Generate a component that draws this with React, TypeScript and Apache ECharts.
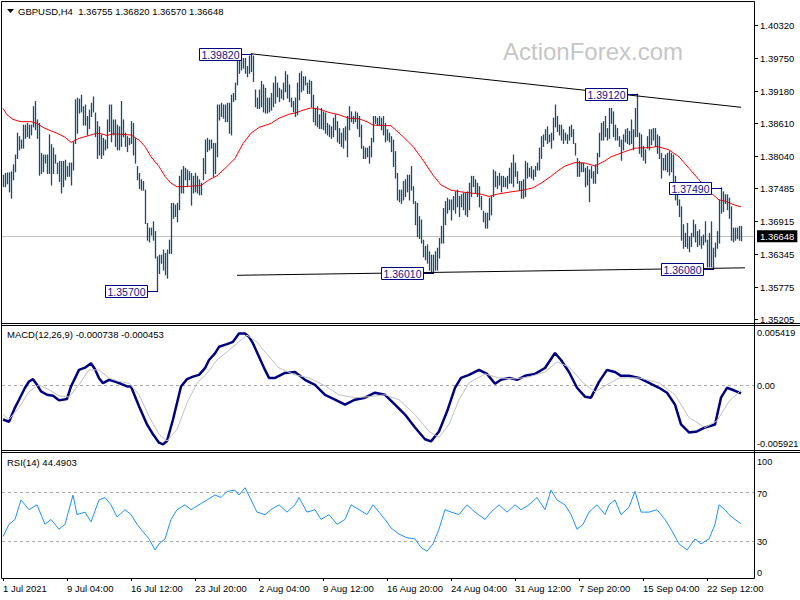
import React, { useEffect, useRef } from 'react';
import * as echarts from 'echarts';

const FONT = '"Liberation Sans", Arial, sans-serif';
const BAR_COLOR = '#174d6f';

// ---- bars (H4, high / low) ----
const highs = [
  1.3771, 1.3774, 1.3775, 1.3775, 1.3777, 1.3789, 1.3806, 1.3844, 1.3838, 1.3832,
  1.3858, 1.3858, 1.3861, 1.3858, 1.3858, 1.3890, 1.3899, 1.3867, 1.3861, 1.3809,
  1.3806, 1.3806, 1.3806, 1.3841, 1.3824, 1.3818, 1.3806, 1.3792, 1.3795, 1.3795,
  1.3795, 1.3797, 1.3786, 1.3792, 1.3792, 1.3829, 1.3902, 1.3905, 1.3903, 1.3910,
  1.3890, 1.3893, 1.3873, 1.3884, 1.3896, 1.3907, 1.3879, 1.3864, 1.3855, 1.3841,
  1.3835, 1.3832, 1.3867, 1.3893, 1.3893, 1.3867, 1.3867, 1.3858, 1.3855, 1.3899,
  1.3867, 1.3844, 1.3838, 1.3835, 1.3864, 1.3861, 1.3835, 1.3786, 1.3774, 1.3763,
  1.3760, 1.3745, 1.3687, 1.3679, 1.3679, 1.3690, 1.3673, 1.3629, 1.3632, 1.3632,
  1.3641, 1.3635, 1.3641, 1.3658, 1.3722, 1.3722, 1.3719, 1.3722, 1.3769, 1.3780,
  1.3786, 1.3783, 1.3780, 1.3777, 1.3774, 1.3769, 1.3774, 1.3769, 1.3763, 1.3757,
  1.3800, 1.3832, 1.3835, 1.3832, 1.3832, 1.3826, 1.3826, 1.3893, 1.3893, 1.3896,
  1.3893, 1.3893, 1.3896, 1.3896, 1.3910, 1.3913, 1.3931, 1.3974, 1.3980, 1.3974,
  1.3974, 1.3974, 1.3960, 1.3978, 1.3982, 1.3978, 1.3919, 1.3905, 1.3919, 1.3934,
  1.3928, 1.3922, 1.3905, 1.3905, 1.3913, 1.3931, 1.3942, 1.3931, 1.3922, 1.3919,
  1.3931, 1.3951, 1.3945, 1.3928, 1.3905, 1.3899, 1.3905, 1.3931, 1.3948, 1.3951,
  1.3942, 1.3942, 1.3931, 1.3936, 1.3934, 1.3910, 1.3887, 1.3890, 1.3876, 1.3887,
  1.3881, 1.3879, 1.3861, 1.3858, 1.3855, 1.3870, 1.3876, 1.3864, 1.3852, 1.3844,
  1.3852, 1.3855, 1.3873, 1.3890, 1.3881, 1.3873, 1.3881, 1.3879, 1.3873, 1.3858,
  1.3821, 1.3818, 1.3818, 1.3821, 1.3835, 1.3873, 1.3873, 1.3870, 1.3873, 1.3870,
  1.3873, 1.3861, 1.3850, 1.3844, 1.3838, 1.3832, 1.3812, 1.3774, 1.3745, 1.3745,
  1.3760, 1.3763, 1.3771, 1.3771, 1.3786, 1.3751, 1.3725, 1.3722, 1.3699, 1.3693,
  1.3658, 1.3647, 1.3650, 1.3638, 1.3632, 1.3632, 1.3638, 1.3644, 1.3661, 1.3682,
  1.3713, 1.3725, 1.3731, 1.3728, 1.3728, 1.3734, 1.3742, 1.3745, 1.3734, 1.3737,
  1.3740, 1.3740, 1.3742, 1.3757, 1.3769, 1.3769, 1.3763, 1.3757, 1.3751, 1.3734,
  1.3708, 1.3705, 1.3705, 1.3731, 1.3734, 1.3780, 1.3777, 1.3769, 1.3774, 1.3769,
  1.3769, 1.3766, 1.3769, 1.3783, 1.3792, 1.3806, 1.3792, 1.3777, 1.3760, 1.3760,
  1.3763, 1.3795, 1.3792, 1.3783, 1.3786, 1.3780, 1.3786, 1.3792, 1.3818, 1.3838,
  1.3841, 1.3850, 1.3855, 1.3841, 1.3844, 1.3870, 1.3893, 1.3873, 1.3858, 1.3858,
  1.3850, 1.3844, 1.3841, 1.3855, 1.3858, 1.3850, 1.3826, 1.3800, 1.3795, 1.3792,
  1.3792, 1.3783, 1.3786, 1.3780, 1.3786, 1.3777, 1.3789, 1.3809, 1.3844, 1.3861,
  1.3864, 1.3873, 1.3852, 1.3887, 1.3887, 1.3881, 1.3858, 1.3852, 1.3838, 1.3832,
  1.3841, 1.3850, 1.3852, 1.3847, 1.3867, 1.3850, 1.3887, 1.3912, 1.3844, 1.3841,
  1.3821, 1.3815, 1.3838, 1.3850, 1.3850, 1.3852, 1.3852, 1.3841, 1.3838, 1.3809,
  1.3800, 1.3806, 1.3809, 1.3812, 1.3809, 1.3806, 1.3769, 1.3742, 1.3728, 1.3716,
  1.3685, 1.3670, 1.3687, 1.3664, 1.3670, 1.3693, 1.3685, 1.3673, 1.3676, 1.3664,
  1.3667, 1.3690, 1.3658, 1.3670, 1.3690, 1.3644, 1.3653, 1.3673, 1.3728, 1.3749,
  1.3742, 1.3737, 1.3737, 1.3731, 1.3716, 1.3679, 1.3679, 1.3679, 1.3682, 1.3682,
];
const lows = [
  1.3751, 1.3751, 1.3756, 1.3742, 1.3731, 1.3763, 1.3777, 1.3800, 1.3815, 1.3818,
  1.3818, 1.3835, 1.3838, 1.3835, 1.3841, 1.3855, 1.3850, 1.3835, 1.3771, 1.3774,
  1.3777, 1.3792, 1.3774, 1.3774, 1.3754, 1.3774, 1.3792, 1.3774, 1.3760, 1.3740,
  1.3751, 1.3763, 1.3769, 1.3769, 1.3754, 1.3780, 1.3826, 1.3844, 1.3879, 1.3881,
  1.3858, 1.3858, 1.3841, 1.3852, 1.3873, 1.3881, 1.3838, 1.3800, 1.3806, 1.3800,
  1.3806, 1.3815, 1.3818, 1.3847, 1.3829, 1.3841, 1.3821, 1.3815, 1.3815, 1.3821,
  1.3838, 1.3821, 1.3812, 1.3824, 1.3826, 1.3806, 1.3792, 1.3763, 1.3748, 1.3745,
  1.3745, 1.3687, 1.3658, 1.3655, 1.3667, 1.3658, 1.3627, 1.3570, 1.3600, 1.3618,
  1.3606, 1.3598, 1.3592, 1.3635, 1.3635, 1.3696, 1.3699, 1.3690, 1.3711, 1.3740,
  1.3740, 1.3763, 1.3751, 1.3763, 1.3719, 1.3740, 1.3742, 1.3740, 1.3737, 1.3737,
  1.3763, 1.3774, 1.3812, 1.3815, 1.3818, 1.3769, 1.3774, 1.3803, 1.3867, 1.3873,
  1.3870, 1.3864, 1.3864, 1.3844, 1.3841, 1.3899, 1.3902, 1.3928, 1.3948, 1.3954,
  1.3957, 1.3948, 1.3942, 1.3948, 1.3951, 1.3934, 1.3890, 1.3887, 1.3887, 1.3890,
  1.3881, 1.3879, 1.3879, 1.3881, 1.3884, 1.3890, 1.3896, 1.3907, 1.3899, 1.3905,
  1.3902, 1.3916, 1.3905, 1.3899, 1.3890, 1.3881, 1.3873, 1.3876, 1.3902, 1.3916,
  1.3919, 1.3928, 1.3913, 1.3913, 1.3890, 1.3864, 1.3858, 1.3855, 1.3852, 1.3852,
  1.3850, 1.3844, 1.3841, 1.3838, 1.3835, 1.3838, 1.3850, 1.3829, 1.3826, 1.3821,
  1.3818, 1.3832, 1.3803, 1.3850, 1.3864, 1.3861, 1.3864, 1.3852, 1.3838, 1.3818,
  1.3800, 1.3800, 1.3803, 1.3792, 1.3803, 1.3829, 1.3861, 1.3858, 1.3858, 1.3850,
  1.3841, 1.3829, 1.3832, 1.3829, 1.3812, 1.3786, 1.3766, 1.3728, 1.3725, 1.3722,
  1.3728, 1.3734, 1.3742, 1.3728, 1.3745, 1.3722, 1.3685, 1.3664, 1.3661, 1.3653,
  1.3629, 1.3624, 1.3618, 1.3606, 1.3603, 1.3601, 1.3606, 1.3606, 1.3627, 1.3653,
  1.3653, 1.3685, 1.3705, 1.3711, 1.3693, 1.3711, 1.3705, 1.3716, 1.3699, 1.3716,
  1.3711, 1.3702, 1.3699, 1.3711, 1.3734, 1.3751, 1.3740, 1.3734, 1.3716, 1.3711,
  1.3690, 1.3679, 1.3679, 1.3693, 1.3702, 1.3734, 1.3751, 1.3748, 1.3754, 1.3742,
  1.3751, 1.3751, 1.3748, 1.3757, 1.3757, 1.3751, 1.3769, 1.3757, 1.3745, 1.3731,
  1.3731, 1.3734, 1.3766, 1.3769, 1.3766, 1.3763, 1.3769, 1.3780, 1.3780, 1.3800,
  1.3821, 1.3832, 1.3826, 1.3829, 1.3818, 1.3832, 1.3855, 1.3847, 1.3841, 1.3832,
  1.3826, 1.3832, 1.3826, 1.3832, 1.3838, 1.3826, 1.3806, 1.3769, 1.3769, 1.3777,
  1.3777, 1.3751, 1.3754, 1.3725, 1.3766, 1.3757, 1.3757, 1.3774, 1.3803, 1.3832,
  1.3832, 1.3838, 1.3832, 1.3835, 1.3861, 1.3838, 1.3832, 1.3832, 1.3821, 1.3797,
  1.3815, 1.3829, 1.3826, 1.3824, 1.3826, 1.3815, 1.3838, 1.3838, 1.3809, 1.3803,
  1.3797, 1.3792, 1.3818, 1.3815, 1.3824, 1.3832, 1.3821, 1.3809, 1.3800, 1.3766,
  1.3780, 1.3780, 1.3777, 1.3771, 1.3777, 1.3745, 1.3728, 1.3719, 1.3699, 1.3658,
  1.3644, 1.3647, 1.3644, 1.3638, 1.3647, 1.3664, 1.3655, 1.3647, 1.3650, 1.3644,
  1.3650, 1.3655, 1.3612, 1.3612, 1.3612, 1.3608, 1.3629, 1.3644, 1.3653, 1.3705,
  1.3708, 1.3722, 1.3711, 1.3696, 1.3658, 1.3655, 1.3658, 1.3661, 1.3658, 1.3657,
];
const SLOTS = 376; // bar slots incl. right-side chart shift

// moving average (red), [bar index, value]
const maLine: [number, number][] = [
  [0, 1.3887], [2, 1.3876], [5, 1.3868], [9, 1.3864], [14, 1.3864], [17, 1.3861], [20, 1.3854],
  [24, 1.3848], [27, 1.3844], [31, 1.3837], [34, 1.3828], [38, 1.3835], [42, 1.3839], [47, 1.3844],
  [49, 1.3843], [52, 1.3840], [55, 1.3843], [59, 1.3842], [64, 1.3841], [68, 1.3832], [71, 1.3821],
  [74, 1.3803], [78, 1.3786], [81, 1.3769], [84, 1.3757], [87, 1.3751], [90, 1.3751], [94, 1.3752],
  [99, 1.3753], [103, 1.3763], [107, 1.3770], [111, 1.3783], [116, 1.3800], [120, 1.3826],
  [124, 1.3844], [128, 1.3854], [134, 1.3861], [138, 1.3870], [143, 1.3877], [146, 1.3879],
  [150, 1.3884], [154, 1.3888], [158, 1.3886], [163, 1.3880], [168, 1.3876], [173, 1.3870],
  [178, 1.3869], [182, 1.3864], [185, 1.3858], [194, 1.3857], [200, 1.3838], [205, 1.3821],
  [210, 1.3797], [215, 1.3771], [219, 1.3754], [224, 1.3745], [229, 1.3742], [234, 1.3740],
  [239, 1.3738], [243, 1.3734], [247, 1.3738], [254, 1.3742], [260, 1.3745], [265, 1.3749],
  [269, 1.3757], [274, 1.3769], [278, 1.3780], [281, 1.3787], [286, 1.3793], [291, 1.3792],
  [296, 1.3787], [301, 1.3796], [304, 1.3803], [311, 1.3812], [316, 1.3818], [324, 1.3819],
  [327, 1.3821], [333, 1.3815], [338, 1.3803], [343, 1.3783], [348, 1.3763], [354, 1.3740],
  [358, 1.3728], [361, 1.3726], [366, 1.3719], [369, 1.3716],
];

// trend lines
const upperTrend: [number, number][] = [[124, 1.3982], [369, 1.3889]];
const lowerTrend: [number, number][] = [[117, 1.3597], [371, 1.3610]];

// labelled extremes
const annIdx = [77, 124, 215, 317, 359, 355];
const annPrice = [1.357, 1.3982, 1.3601, 1.3912, 1.3749, 1.3608];

const lastClose = 1.36648;
const priceTicks = [1.4032, 1.3975, 1.3918, 1.3861, 1.3804, 1.37485, 1.36915, 1.36345, 1.35775, 1.35205];

// MACD(12,26,9)
const macdMain: [number, number][] = [
  [0, -0.00318], [3, -0.00339], [6, -0.00207], [8, -0.00134], [11, -0.00023], [13, 0.00035],
  [15, 0.00057], [17, 0.00005], [19, -0.00057], [22, -0.00088], [25, -0.00097], [28, -0.0014],
  [32, -0.00127], [34, -0.00011], [38, 0.00143], [41, 0.00164], [44, 0.00205], [46, 0.00149],
  [48, 0.00066], [50, 0.0002], [53, 0.00051], [56, 0.00035], [59, 0.00014], [62, -0.00011],
  [64, -0.00011], [65, -0.00057], [68, -0.00195], [72, -0.00364], [75, -0.00456], [78, -0.00533],
  [80, -0.00549], [82, -0.00518], [85, -0.00318], [89, -0.00011], [92, 0.00057], [95, 0.00081],
  [98, 0.00097], [101, 0.00159], [103, 0.00235], [106, 0.00297], [108, 0.00358], [112, 0.00383],
  [115, 0.00404], [118, 0.00481], [121, 0.00481], [123, 0.0045], [125, 0.00389], [128, 0.00266],
  [131, 0.00143], [133, 0.00069], [136, 0.00069], [141, 0.00115], [146, 0.00124], [151, 0.00051],
  [156, 0.00005], [161, -0.00088], [166, -0.00134], [171, -0.0018], [176, -0.00134], [181, -0.00115],
  [186, -0.00069], [191, -0.00088], [196, -0.0018], [201, -0.00272], [206, -0.00392], [211, -0.00502],
  [214, -0.00521], [218, -0.00429], [222, -0.00244], [226, -0.00023], [229, 0.00069], [233, 0.00097],
  [238, 0.00143], [242, 0.00106], [246, 0.00014], [249, 0.00051], [253, 0.00069], [257, 0.00051],
  [261, 0.00088], [266, 0.00106], [271, 0.00161], [276, 0.003], [279, 0.00235], [283, 0.00124],
  [287, -0.00023], [291, -0.00106], [294, -0.00115], [298, 0.00032], [302, 0.00143], [306, 0.00124],
  [309, 0.00088], [313, 0.00088], [318, 0.00069], [323, 0.00023], [328, -0.00023], [332, -0.00069],
  [336, -0.0018], [339, -0.00364], [343, -0.00438], [347, -0.00429], [351, -0.00392], [356, -0.00364],
  [359, -0.00115], [362, -0.00023], [366, -0.00051], [369, -0.000738],
];
const macdSignal: [number, number][] = [
  [0, -0.00272], [3, -0.00318], [8, -0.00207], [13, -0.00057], [18, 0.00005], [23, -0.00041],
  [28, -0.00097], [33, -0.00109], [38, 0.00005], [43, 0.00143], [48, 0.00143], [53, 0.00066],
  [58, 0.00035], [63, 0.0002], [68, -0.00088], [73, -0.00288], [78, -0.00456], [82, -0.00518],
  [87, -0.0041], [92, -0.00164], [97, 0.0002], [102, 0.00112], [107, 0.00235], [112, 0.00312],
  [117, 0.00389], [122, 0.00466], [127, 0.00404], [131, 0.00309], [138, 0.00161], [146, 0.00097],
  [153, 0.00069], [161, -0.00005], [168, -0.00088], [176, -0.00115], [183, -0.00106], [191, -0.00088],
  [198, -0.00134], [206, -0.00272], [213, -0.00429], [218, -0.00484], [223, -0.00364], [228, -0.00134],
  [233, 0.00023], [241, 0.00106], [248, 0.00069], [256, 0.0006], [263, 0.00078], [271, 0.00124],
  [277, 0.00217], [283, 0.00171], [290, 0.00023], [296, -0.0006], [302, 0.00005], [308, 0.00069],
  [318, 0.00069], [328, 0.00023], [336, -0.00088], [343, -0.003], [351, -0.00392], [357, -0.0033],
  [363, -0.0015], [369, -0.000453],
];
const macdTicks = [0.005419, 0, -0.005921];
const macdTickText = ['0.005419', '0.00', '-0.005921'];

// RSI(14)
const rsiLine: [number, number][] = [
  [0, 34], [3, 44], [6, 48], [9, 64], [13, 56], [17, 60], [21, 44], [24, 48], [28, 40], [31, 44],
  [35, 68], [37, 52], [41, 54], [44, 46], [48, 64], [51, 66], [54, 60], [57, 50], [61, 56], [64, 52],
  [67, 44], [71, 36], [73, 32], [76, 23], [78, 28], [81, 32], [84, 48], [87, 56], [91, 60], [94, 56],
  [98, 60], [102, 64], [106, 68], [109, 66], [112, 71], [116, 72], [118, 68], [121, 74], [124, 64],
  [127, 54], [131, 52], [134, 56], [138, 60], [142, 54], [146, 60], [148, 66], [152, 54], [156, 56],
  [159, 48], [163, 52], [167, 44], [171, 48], [174, 60], [178, 56], [182, 52], [185, 60], [188, 54],
  [191, 48], [194, 41], [198, 36], [202, 33], [206, 32], [209, 25], [212, 22], [215, 28], [218, 40],
  [221, 56], [224, 54], [228, 52], [232, 60], [236, 54], [241, 48], [244, 54], [248, 60], [252, 54],
  [256, 60], [259, 56], [263, 60], [267, 66], [271, 56], [274, 72], [277, 64], [281, 60], [284, 52],
  [287, 40], [290, 44], [293, 54], [297, 60], [301, 52], [303, 60], [306, 64], [309, 52], [313, 58],
  [316, 71], [319, 54], [323, 54], [327, 56], [331, 48], [334, 40], [338, 28], [342, 23], [346, 32],
  [349, 28], [353, 32], [356, 44], [358, 60], [361, 56], [363, 52], [366, 48], [369, 44.4903],
];
const rsiLevels = [70, 30];
const rsiTicks = [100, 70, 30, 0];
const rsiTickText = ['100', '70', '30', '0'];

// time axis labels
const xLabelIdx = [0, 32, 64, 96, 128, 160, 192, 224, 256, 288, 320, 352];
const xLabelText = [
  '1 Jul 2021', '9 Jul 04:00', '16 Jul 12:00', '23 Jul 20:00', '2 Aug 04:00', '9 Aug 12:00',
  '16 Aug 20:00', '24 Aug 04:00', '31 Aug 12:00', '7 Sep 20:00', '15 Sep 04:00', '22 Sep 12:00',
];

const titleText = 'GBPUSD,H4  1.36755 1.36820 1.36570 1.36648';
const macdTitle = 'MACD(12,26,9) -0.000738 -0.000453';
const rsiTitle = 'RSI(14) 44.4903';

function tickSeries(grid: number, values: number[], texts: string[], aligns: string[], ticks: boolean) {
  return {
    type: 'custom',
    xAxisIndex: grid,
    yAxisIndex: grid,
    clip: false,
    silent: true,
    z: 20,
    data: values.map((v) => [0, v]),
    renderItem: (params: any, api: any) => {
      const cs = params.coordSys;
      const y = Math.round(api.coord([0, api.value(1)])[1]) + 0.5;
      const right = cs.x + cs.width;
      const va = aligns[params.dataIndex];
      const children: any[] = [];
      if (ticks) {
        children.push({ type: 'line', shape: { x1: right, y1: y, x2: right + 4, y2: y }, style: { stroke: '#000', lineWidth: 1 } });
      }
      children.push({
        type: 'text',
        x: right + (ticks ? 6 : 3),
        y: va === 'top' ? y + 1 : va === 'bottom' ? y - 1 : y,
        style: { text: texts[params.dataIndex], fill: '#000', font: `${ticks ? 9.5 : 9.2}px ${FONT}`, align: 'left', verticalAlign: va },
      });
      return { type: 'group', children };
    },
  };
}

function buildOption() {
  const cats = Array.from({ length: SLOTS }, (_, i) => String(i));
  const labelSet = new Set(xLabelIdx);
  const barData = highs.map((h, i) => [i, lows[i], h]);
  const grids = [
    { left: 2, top: 2, width: 752, height: 321 },
    { left: 2, top: 327, width: 752, height: 122 },
    { left: 2, top: 456, width: 752, height: 122 },
  ];
  const xAxis = grids.map((_, g) => ({
    type: 'category',
    gridIndex: g,
    data: cats,
    boundaryGap: true,
    show: g === 2,
    axisLine: { show: g === 2, lineStyle: { color: '#000', width: 1 } },
    axisTick: {
      show: g === 2,
      interval: (idx: number) => labelSet.has(idx),
      alignWithLabel: true,
      length: 3,
      lineStyle: { color: '#000' },
    },
    axisLabel: {
      show: g === 2,
      interval: (idx: number) => labelSet.has(idx),
      formatter: (_v: string, idx: number) => {
        const k = xLabelIdx.indexOf(idx);
        return k >= 0 ? xLabelText[k] : '';
      },
      align: 'left',
      margin: 5,
      color: '#000',
      fontFamily: FONT,
      fontSize: 9.5,
    },
    splitLine: { show: false },
  }));
  const yAxis = [
    { type: 'value', gridIndex: 0, min: 1.35141, max: 1.4072, show: false, splitLine: { show: false } },
    { type: 'value', gridIndex: 1, min: -0.005921, max: 0.005419, show: false, splitLine: { show: false } },
    { type: 'value', gridIndex: 2, min: 0, max: 100, show: false, splitLine: { show: false } },
  ];

  const series: any[] = [
    {
      type: 'line',
      name: 'ma',
      xAxisIndex: 0,
      yAxisIndex: 0,
      data: maLine,
      showSymbol: false,
      symbol: 'none',
      lineStyle: { color: '#ff0000', width: 1 },
      z: 3,
      silent: true,
      markLine: {
        silent: true,
        precision: 6,
        symbol: ['none', 'none'],
        data: [{ yAxis: lastClose }],
        lineStyle: { color: '#c0c0c0', width: 1, type: 'solid' },
        label: {
          show: true,
          position: 'end',
          formatter: lastClose.toFixed(5),
          color: '#fff',
          backgroundColor: '#000',
          padding: [1, 3, 1, 3],
          distance: 3,
          fontFamily: FONT,
          fontSize: 9.5,
        },
        z: 1,
      },
    },
    {
      type: 'custom',
      name: 'bars',
      xAxisIndex: 0,
      yAxisIndex: 0,
      data: barData,
      encode: { x: 0, y: [1, 2] },
      z: 4,
      silent: true,
      renderItem: (_p: any, api: any) => {
        const i = api.value(0);
        const lo = api.coord([i, api.value(1)]);
        const hi = api.coord([i, api.value(2)]);
        const x = Math.round(lo[0]) + 0.5;
        return {
          type: 'line',
          shape: { x1: x, y1: lo[1] + 0.5, x2: x, y2: hi[1] - 0.5 },
          style: { stroke: BAR_COLOR, lineWidth: 1.3 },
        };
      },
    },
    {
      type: 'line',
      xAxisIndex: 0,
      yAxisIndex: 0,
      data: upperTrend,
      symbol: 'none',
      lineStyle: { color: '#000', width: 1 },
      z: 5,
      silent: true,
    },
    {
      type: 'line',
      xAxisIndex: 0,
      yAxisIndex: 0,
      data: lowerTrend,
      symbol: 'none',
      lineStyle: { color: '#000', width: 1 },
      z: 5,
      silent: true,
    },
    {
      type: 'custom',
      name: 'annotations',
      xAxisIndex: 0,
      yAxisIndex: 0,
      data: annIdx.map((i, k) => [i, annPrice[k]]),
      z: 10,
      silent: true,
      clip: false,
      renderItem: (params: any, api: any) => {
        const p = api.coord([api.value(0), api.value(1)]);
        const y = Math.round(p[1]) + 0.5;
        const bw = 42;
        const bh = 12;
        const right = Math.round(p[0]) - 10 + 0.5;
        const left = right - bw;
        return {
          type: 'group',
          children: [
            { type: 'line', shape: { x1: right, y1: y, x2: Math.round(p[0]) + 1, y2: y }, style: { stroke: '#000080', lineWidth: 1 } },
            { type: 'rect', shape: { x: left, y: y - bh / 2, width: bw, height: bh }, style: { fill: '#fff', stroke: '#000080', lineWidth: 1 } },
            {
              type: 'text',
              x: left + bw / 2,
              y: y + 0.5,
              style: {
                text: annPrice[params.dataIndex].toFixed(5),
                fill: '#12128c',
                font: `10.5px ${FONT}`,
                align: 'center',
                verticalAlign: 'middle',
              },
            },
          ],
        };
      },
    },
    tickSeries(0, priceTicks, priceTicks.map((v) => v.toFixed(5)), priceTicks.map(() => 'middle'), true),
    {
      type: 'line',
      xAxisIndex: 1,
      yAxisIndex: 1,
      data: macdMain,
      symbol: 'none',
      lineStyle: { color: '#000080', width: 2.5 },
      z: 3,
      silent: true,
    },
    {
      type: 'line',
      xAxisIndex: 1,
      yAxisIndex: 1,
      data: macdSignal,
      symbol: 'none',
      lineStyle: { color: '#c0c0c0', width: 1 },
      z: 4,
      silent: true,
      markLine: {
        silent: true,
        precision: 6,
        symbol: ['none', 'none'],
        data: [{ yAxis: 0 }],
        lineStyle: { color: '#a8a8a8', width: 1, type: [3, 3] },
        label: { show: false },
        z: 1,
      },
    },
    tickSeries(1, macdTicks, macdTickText, ['top', 'middle', 'bottom'], false),
    {
      type: 'line',
      xAxisIndex: 2,
      yAxisIndex: 2,
      data: rsiLine,
      symbol: 'none',
      lineStyle: { color: '#1e90ff', width: 1 },
      z: 3,
      silent: true,
      markLine: {
        silent: true,
        precision: 6,
        symbol: ['none', 'none'],
        data: rsiLevels.map((v) => ({ yAxis: v })),
        lineStyle: { color: '#a8a8a8', width: 1, type: [3, 3] },
        label: { show: false },
        z: 1,
      },
    },
    tickSeries(2, rsiTicks, rsiTickText, ['top', 'middle', 'middle', 'bottom'], false),
  ];

  const hline = (y: number, x1: number, x2: number) => ({
    type: 'line',
    shape: { x1, y1: y, x2, y2: y },
    style: { stroke: '#000', lineWidth: 1 },
    z: 50,
    silent: true,
  });
  const vline = (x: number, y1: number, y2: number) => ({
    type: 'line',
    shape: { x1: x, y1, x2: x, y2 },
    style: { stroke: '#000', lineWidth: 1 },
    z: 50,
    silent: true,
  });

  const graphic = [
    hline(1.5, 1.5, 754.5),
    hline(323.5, 1.5, 800),
    hline(325.5, 1.5, 800),
    hline(450.5, 1.5, 800),
    hline(452.5, 1.5, 800),
    vline(1.5, 1.5, 578.5),
    vline(754.5, 1.5, 578.5),
    {
      type: 'polygon',
      shape: { points: [[7, 9], [14, 9], [10.5, 13]] },
      style: { fill: '#000' },
      z: 50,
    },
    {
      type: 'text',
      x: 18,
      y: 11,
      style: { text: titleText, fill: '#000', font: `9.5px ${FONT}`, verticalAlign: 'middle' },
      z: 50,
    },
    {
      type: 'text',
      x: 7,
      y: 334.5,
      style: { text: macdTitle, fill: '#000', font: `9.5px ${FONT}`, verticalAlign: 'middle' },
      z: 50,
    },
    {
      type: 'text',
      x: 7,
      y: 462,
      style: { text: rsiTitle, fill: '#000', font: `9.5px ${FONT}`, verticalAlign: 'middle' },
      z: 50,
    },
    {
      type: 'text',
      x: 503,
      y: 51,
      style: { text: 'ActionForex.com', fill: '#c6c6c6', font: `24px ${FONT}`, verticalAlign: 'middle' },
      z: 0,
    },
  ];

  return {
    animation: false,
    backgroundColor: '#ffffff',
    grid: grids.map((g) => ({ ...g, show: false })),
    xAxis,
    yAxis,
    series,
    graphic,
  };
}

export default function App() {
  const ref = useRef<HTMLDivElement>(null);
  useEffect(() => {
    if (!ref.current) return;
    const chart = echarts.init(ref.current, undefined, { renderer: 'svg' });
    chart.setOption(buildOption() as any);
    return () => chart.dispose();
  }, []);
  return <div ref={ref} style={{ position: 'absolute', left: 0, top: 0, width: 800, height: 600 }} />;
}
